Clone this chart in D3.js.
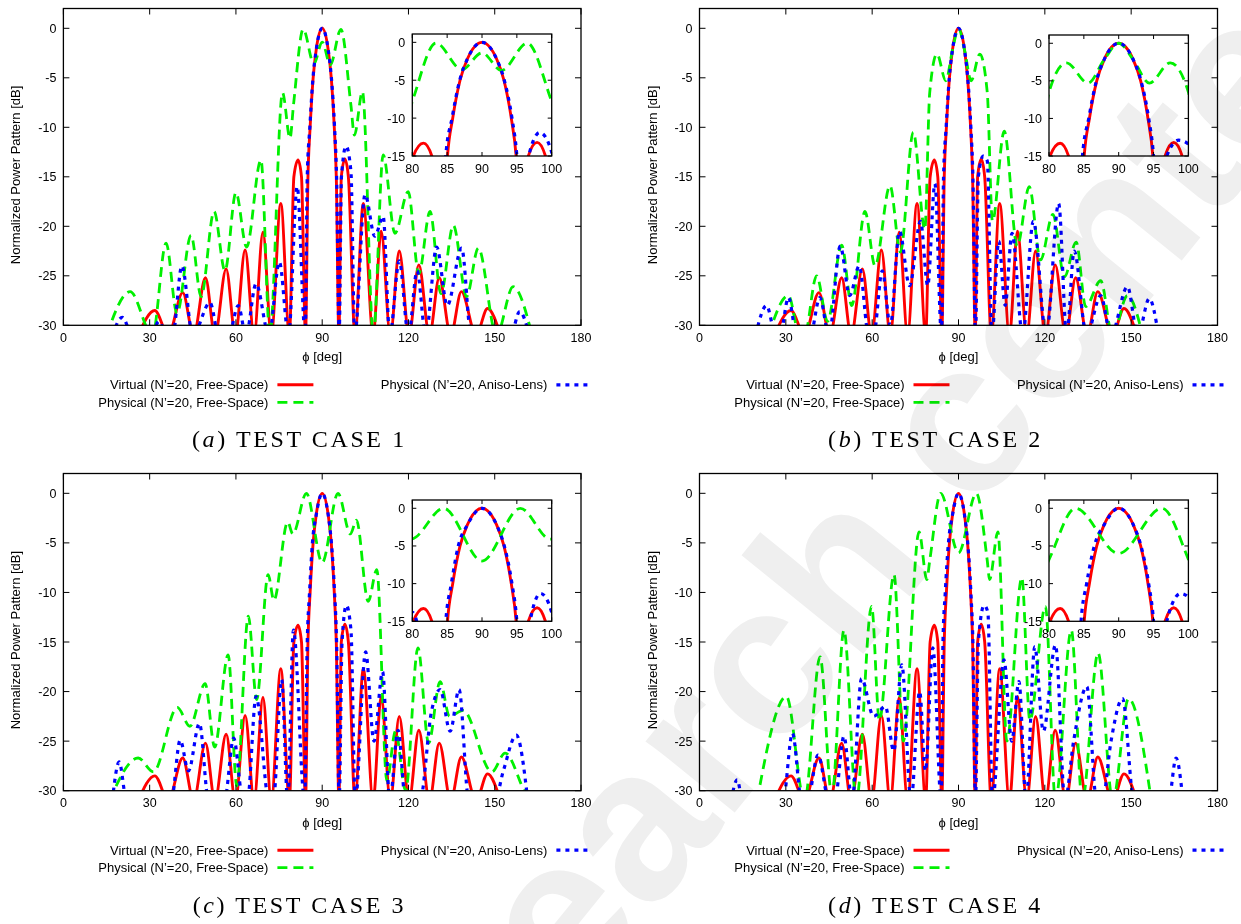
<!DOCTYPE html>
<html>
<head>
<meta charset="utf-8">
<script src="https://d3js.org/d3.v7.min.js"></script>
<style>
  body { margin: 0; background: #fff; }
  svg text { font-family: "Liberation Sans", Arial, sans-serif; fill: #000; }
  .caption { font-family: "Liberation Serif", "DejaVu Serif", serif; }
</style>
</head>
<body>
<script>
// ---- data: [phi (deg), level (dB)] ----
// turning points only; -31 marks a null that lies below the -30 dB floor
const phiTicks = [0, 30, 60, 90, 120, 150, 180]
const dbTicks = [0, -5, -10, -15, -20, -25, -30]
const insetPhiTicks = [80, 85, 90, 95, 100]
const insetDbTicks = [0, -5, -10, -15]
const seriesNames = ['Virtual (N\u2019=20, Free-Space)', 'Physical (N\u2019=20, Free-Space)', 'Physical (N\u2019=20, Aniso-Lens)']
const captions = ['TEST CASE 1', 'TEST CASE 2', 'TEST CASE 3', 'TEST CASE 4']
const captionLetters = ['a', 'b', 'c', 'd']

// same virtual pattern in all four cases
const virtualFS = [[26,-31],[31.8,-28.5],[36.5,-31],[41.5,-26.7],[45.3,-31],[49.4,-25.2],[52.7,-31],[56.6,-24.3],
  [59.8,-31],[63.2,-22.4],[66.3,-31],[69.4,-20.6],[72.3,-31],[75.6,-17.7],[78.6,-31],[80.15,-15],[81.6,-13.3],
  [82.8,-15],[84.2,-31],[85.05,-15],[85.8,-10],[86.85,-5],[87.9,-2.2],[90,0],[92.1,-2.2],[93.15,-5],[94.2,-10],
  [94.9,-15],[95.8,-31],[96.65,-15],[97.9,-13.2],[99.1,-15],[101.4,-31],[104.3,-17.7],[107.7,-31],[110.5,-20.5],
  [113.7,-31],[116.8,-22.5],[120.2,-31],[123.6,-23.9],[127.3,-31],[130.7,-25.2],[134.7,-31],[138.4,-26.6],
  [143.5,-31],[147.5,-28.3],[152,-31]]

const freeSpace1 = [[15,-31],[23.2,-26.6],[31,-31],[35.7,-21.7],[39.5,-28.8],[44.4,-20.9],[47.9,-27.1],[52.4,-18.5],
  [56.2,-24.5],[60,-16.6],[63.7,-22.1],[68.7,-13.3],[71.8,-31],[76.2,-6.5],[78.8,-11.1],[80,-7.8],[83.4,-0.1],
  [87.1,-3.6],[90,-1.4],[92.8,-3.7],[96.5,-0.1],[100,-7.8],[101.2,-10.8],[104,-6.4],[107.8,-31],[111.2,-12.8],
  [115.3,-20.7],[119.9,-16.5],[123.6,-24.8],[127.5,-18.5],[131.3,-26.8],[135.6,-19.9],[140.2,-27.1],[144.3,-22.2],
  [150.6,-31],[156.4,-26.1],[163,-31]]
const aniso1 = [[17,-31],[20.5,-29.2],[24,-31],[30.5,-31],[33.2,-29.6],[36,-31],[38,-31],[41.2,-24],[45,-31],
  [51,-27.7],[54,-31],[57.5,-31],[60.8,-28],[63.5,-31],[67,-25.8],[71.5,-31],[75.1,-23.6],[78.3,-31],[81.3,-16],
  [84.1,-31],[84.8,-15],[85.7,-10],[86.8,-5],[87.9,-2.2],[90,0],[92.1,-2.2],[93.2,-5],[94.3,-10],[95,-15],
  [95.9,-31],[96.7,-15],[98.3,-11.9],[100,-14.5],[101.3,-31],[104.9,-16.8],[108.3,-21],[111.2,-19],[113.5,-31],
  [116.8,-23.5],[120,-31],[123,-24.5],[126,-31],[129.8,-22.1],[133.5,-28],[138.5,-22.2],[141.8,-31],[155.5,-31],
  [158.7,-28.6],[162,-31]]

const freeSpace2 = [[24,-31],[30.9,-27],[34.8,-31],[36.5,-31],[40.7,-25],[44.5,-29.6],[49.4,-21.9],[52.9,-28],
  [57.5,-18.5],[61,-24],[66.2,-15.9],[69.8,-22.6],[74.3,-10.5],[78.3,-20.3],[80,-6.5],[82.5,-2.6],[85.6,-5.3],
  [87.9,-2.2],[90,0],[92.1,-2.2],[94.4,-5.3],[97.4,-2.6],[100,-6.5],[101.8,-19.5],[105.9,-10.4],[110.4,-22],
  [114.6,-16],[118.5,-23.4],[122.8,-18.8],[126.8,-25.1],[130.9,-21.6],[134.2,-28.1],[139.4,-25.5],[143.5,-31],
  [148.7,-27],[154,-31]]
const aniso2 = [[19.5,-31],[23.3,-28],[26.5,-31],[28,-31],[30.9,-27.2],[33.8,-31],[38.5,-31],[41.8,-27.2],[45,-31],
  [48.9,-22],[52.2,-27],[55.5,-24],[58.8,-31],[60.5,-31],[63.5,-24.5],[66.3,-30],[69.5,-20.5],[73,-26],[76.8,-19.5],
  [79.3,-26],[81.8,-15.7],[84.1,-31],[84.8,-15],[85.7,-10],[86.8,-5],[87.9,-2.2],[90,0],[92.1,-2.2],[93.2,-5],
  [94.3,-10],[95,-15],[95.9,-31],[96.9,-15],[98.6,-12.9],[100,-13.4],[101.6,-31],[104,-21.5],[106.2,-28],
  [108.6,-20.7],[112.3,-31],[116,-19.5],[120.5,-31],[124.8,-17.7],[127.6,-31],[130.2,-22.5],[134.5,-31],
  [139.4,-27],[143,-31],[148.7,-26.1],[152.3,-31],[156.3,-27.3],[159.5,-31]]

const freeSpace3 = [[16,-31],[26,-26.7],[31.3,-28.1],[39.6,-21.6],[44,-23.5],[49.3,-19.2],[52.6,-25.6],[57.3,-16.3],
  [60.3,-29.5],[64.3,-12.4],[67.2,-20.8],[71.2,-8.2],[73.2,-10.8],[78,-2.9],[79.8,-4.1],[84.5,0],[90,-7],[95.5,0],
  [99.8,-4.1],[101.9,-2.7],[106,-10.9],[109,-7.7],[112.5,-29],[115.5,-24],[119,-30],[123.3,-15.6],[127,-25.2],
  [131,-19],[134.3,-22.5],[139,-21.9],[149,-28.1],[153.6,-26.2],[160.2,-30],[162,-31]]
const aniso3 = [[17,-31],[19.4,-27.1],[22,-31],[37.5,-31],[40.6,-24.9],[43.5,-28],[47.3,-23.2],[50.5,-31],[56,-31],
  [59.2,-24.7],[62.5,-31],[64,-31],[67,-20.5],[71.5,-31],[73,-31],[75.9,-18.8],[78,-31],[80,-13.8],[83.9,-31],
  [84.8,-15],[85.6,-10],[86.6,-5],[87.9,-2.2],[90,0],[92.1,-2.2],[93.2,-5],[94.3,-10],[95,-15],[95.9,-31],
  [96.9,-15],[98.4,-11.3],[100,-13.8],[101.5,-31],[105.1,-16],[108,-25],[111,-18],[113.5,-31],[116.4,-23.9],
  [119,-31],[124,-31],[128,-22],[131,-19.8],[134.5,-24],[137.6,-19.8],[141,-31],[150,-31],[153,-28],[157.5,-24.4],
  [161.5,-31]]

const freeSpace4 = [[20,-31],[30.2,-20.5],[36.5,-31],[41.9,-16.5],[46,-30.5],[50.2,-13.8],[54.5,-31],[59.8,-11.4],
  [62.5,-22.9],[67.6,-8.2],[70.8,-25],[76.3,-3.9],[79,-8.7],[80,-6.8],[83.8,0],[90,-6],[96.2,0],[100,-6.8],
  [100.8,-8.7],[103.7,-3.9],[106.8,-25],[112,-8.5],[114.8,-22.9],[120.2,-11.4],[123.7,-31],[129.2,-13.8],[133,-31],
  [138.5,-16.1],[143.6,-31],[149.1,-20.7],[157,-31]]
const aniso4 = [[11,-31],[13.1,-28.9],[15,-31],[29,-31],[32.3,-24.2],[35.5,-31],[37.5,-31],[41.2,-26.4],[45,-31],
  [47,-31],[50.2,-24.5],[53,-31],[56.3,-18.7],[60.5,-22.5],[64.6,-21.5],[67.5,-26],[70.3,-17.3],[73.5,-31],
  [76.5,-20],[78.5,-28],[81.1,-15.6],[84,-31],[84.6,-15],[85.4,-10],[86.5,-5],[87.9,-2.2],[90,0],[92.1,-2.2],
  [93.2,-5],[94.3,-10],[95,-15],[95.9,-31],[96.9,-15],[98.9,-11.3],[100.2,-12],[101.8,-31],[105.8,-16.8],
  [108.5,-25],[111,-19],[113.5,-31],[116.5,-15.5],[119.5,-24],[123.7,-15.3],[127,-31],[130,-25],[134.6,-19.5],
  [138,-31],[140,-31],[143,-25],[147,-20.7],[151,-31],[163,-31],[165.6,-26.7],[168,-31]]

const freeSpaceCases = [freeSpace1, freeSpace2, freeSpace3, freeSpace4]
const anisoCases = [aniso1, aniso2, aniso3, aniso4]

// ---- layout ----
const width = 1241
const height = 924
const panels = [
  { left: 63.4, right: 581, top: 8.5, bottom: 325.3, inset: [412.3, 551.7, 34, 156] },
  { left: 699.5, right: 1217.5, top: 8.5, bottom: 325.3, inset: [1049, 1188.4, 35, 156] },
  { left: 63.4, right: 581, top: 473.5, bottom: 790.7, inset: [412.3, 551.7, 500, 621.3] },
  { left: 699.5, right: 1217.5, top: 473.5, bottom: 790.7, inset: [1049, 1188.4, 500, 621.3] }
]
const styles = [
  { color: '#ff0000', width: 2.9, dash: null },
  { color: '#00f000', width: 2.8, dash: '10,6' },
  { color: '#0000ff', width: 3.2, dash: '4,5' }
]

const svg = d3.select('body').append('svg')
  .attr('width', width).attr('height', height)
  .attr('viewBox', `0 0 ${width} ${height}`)

const defs = svg.append('defs')

/* draws the three curves of one case into a clipped box */
const drawCurves = (g, id, series, xs, ys) => {
  const [x0, x1] = xs.range()
  const [y0, y1] = ys.range()
  defs.append('clipPath').attr('id', id)
    .append('rect').attr('x', x0).attr('y', y1).attr('width', x1 - x0).attr('height', y0 - y1)
  const line = d3.line().x(d => xs(d[0])).y(d => ys(d[1])).curve(d3.curveMonotoneX)
  const cg = g.append('g').attr('clip-path', `url(#${id})`)
  series.forEach((data, i) => {
    cg.append('path').datum(data)
      .attr('d', line)
      .attr('fill', 'none')
      .attr('stroke', styles[i].color)
      .attr('stroke-width', styles[i].width)
      .attr('stroke-dasharray', styles[i].dash)
  })
}

/* frame with inward mirrored ticks, gnuplot style */
const drawFrame = (g, xs, ys, xt, yt, tickLen, fontSize) => {
  const [x0, x1] = xs.range()
  const [y0, y1] = ys.range()
  const ticks = g.append('g').attr('stroke', '#000').attr('stroke-width', 1)
  xt.forEach(v => {
    ticks.append('line').attr('x1', xs(v)).attr('x2', xs(v)).attr('y1', y0).attr('y2', y0 - tickLen)
    ticks.append('line').attr('x1', xs(v)).attr('x2', xs(v)).attr('y1', y1).attr('y2', y1 + tickLen)
    g.append('text').attr('x', xs(v)).attr('y', y0 + fontSize + 4)
      .attr('text-anchor', 'middle').style('font-size', fontSize + 'px').text(v)
  })
  yt.forEach(v => {
    ticks.append('line').attr('x1', x0).attr('x2', x0 + tickLen).attr('y1', ys(v)).attr('y2', ys(v))
    ticks.append('line').attr('x1', x1).attr('x2', x1 - tickLen).attr('y1', ys(v)).attr('y2', ys(v))
    g.append('text').attr('x', x0 - 7).attr('y', ys(v) + fontSize * 0.36)
      .attr('text-anchor', 'end').style('font-size', fontSize + 'px').text(v)
  })
  g.append('rect').attr('x', x0).attr('y', y1).attr('width', x1 - x0).attr('height', y0 - y1)
    .attr('fill', 'none').attr('stroke', '#000').attr('stroke-width', 1.3)
}

panels.forEach((p, k) => {
  const g = svg.append('g')
  const series = [virtualFS, freeSpaceCases[k], anisoCases[k]]

  // main plot
  const x = d3.scaleLinear().domain([0, 180]).range([p.left, p.right])
  const y = d3.scaleLinear().domain([-30, 2]).range([p.bottom, p.top])
  drawCurves(g, 'clip-main-' + k, series, x, y)
  drawFrame(g, x, y, phiTicks, dbTicks, 6, 12.5)

  g.append('text')
    .attr('transform', `translate(${p.left - 43},${(p.top + p.bottom) / 2 + 8}) rotate(-90)`)
    .attr('text-anchor', 'middle').style('font-size', '13px')
    .text('Normalized Power Pattern [dB]')
  g.append('text').attr('x', x(90)).attr('y', p.bottom + 36)
    .attr('text-anchor', 'middle').style('font-size', '13px').text('\u03d5 [deg]')

  // inset zoom on the main lobe
  const [ix0, ix1, iy0, iy1] = p.inset
  const ix = d3.scaleLinear().domain([80, 100]).range([ix0, ix1])
  const iy = d3.scaleLinear().domain([-15, 1.1]).range([iy1, iy0])
  g.append('rect').attr('x', ix0).attr('y', iy0).attr('width', ix1 - ix0).attr('height', iy1 - iy0).attr('fill', '#fff')
  drawCurves(g, 'clip-inset-' + k, series, ix, iy)
  drawFrame(g, ix, iy, insetPhiTicks, insetDbTicks, 4, 12.5)

  // legend
  const legendItems = [
    { name: seriesNames[0], s: styles[0], tx: p.left + 205, row: 0 },
    { name: seriesNames[1], s: styles[1], tx: p.left + 205, row: 1 },
    { name: seriesNames[2], s: styles[2], tx: p.left + 484, row: 0 }
  ]
  legendItems.forEach(it => {
    const ly = p.bottom + 59.5 + it.row * 17.5
    g.append('text').attr('x', it.tx).attr('y', ly + 4.5)
      .attr('text-anchor', 'end').style('font-size', '13px').text(it.name)
    g.append('line').attr('x1', it.tx + 9).attr('x2', it.tx + 45).attr('y1', ly).attr('y2', ly)
      .attr('stroke', it.s.color).attr('stroke-width', it.s.width).attr('stroke-dasharray', it.s.dash)
  })

  // caption
  const cap = g.append('text').attr('class', 'caption')
    .attr('x', p.left + 236).attr('y', p.bottom + 122)
    .attr('text-anchor', 'middle').style('font-size', '24px').style('letter-spacing', '2.6px')
  cap.append('tspan').text('(')
  cap.append('tspan').style('font-style', 'italic').text(captionLetters[k])
  cap.append('tspan').text(') ' + captions[k])
})

// faint diagonal watermark over the page
svg.append('text')
  .attr('transform', 'translate(370,1263) rotate(-51)')
  .style('font-size', '216px').style('font-weight', 'bold')
  .style('mix-blend-mode', 'multiply')
  .style('fill', '#efefef')
  .text('research center')
</script>
</body>
</html>
